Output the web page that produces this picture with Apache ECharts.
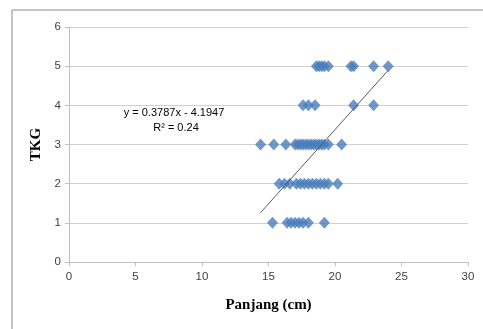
<!DOCTYPE html>
<html>
<head>
<meta charset="utf-8">
<script src="https://cdn.jsdelivr.net/npm/echarts@6/dist/echarts.min.js"></script>
<style>
  html, body { margin: 0; padding: 0; background: #fff; }
  #chart { width: 483px; height: 329px; }
</style>
</head>
<body>
<div id="chart"></div>
<script>
// Panjang (cm) values, one list per TKG level
const tkg1 = [15.3, 16.4, 16.7, 17.0, 17.3, 17.6, 18.0, 19.2]
const tkg2 = [15.8, 16.2, 16.6, 17.1, 17.4, 17.7, 18.0, 18.3, 18.6, 18.9, 19.2, 19.5, 20.2]
const tkg3 = [14.4, 15.4, 16.3, 17.0, 17.2, 17.4, 17.6, 17.8, 18.0, 18.2, 18.4, 18.6, 18.8, 19.0, 19.2, 19.5, 20.5]
const tkg4 = [17.6, 18.0, 18.5, 21.4, 22.9]
const tkg5 = [18.6, 18.8, 19.0, 19.2, 19.5, 21.2, 21.4, 22.9, 24.0]

// linear trendline shown on the chart
const slope = 0.3787
const intercept = -4.1947
const eqText = 'y = 0.3787x - 4.1947'
const r2Text = 'R² = 0.24'

const xTicks = [0, 5, 10, 15, 20, 25, 30]
const yTicks = [0, 1, 2, 3, 4, 5, 6]

const levels = [[1, tkg1], [2, tkg2], [3, tkg3], [4, tkg4], [5, tkg5]]
const points = []
levels.forEach(([lvl, xs]) => {
  xs.forEach(x => points.push([x, lvl]))
})
const allX = points.map(p => p[0])
const xMin = Math.min(...allX)
const xMax = Math.max(...allX)
const trend = [[xMin, slope * xMin + intercept], [xMax, slope * xMax + intercept]]

const myChart = echarts.init(document.getElementById('chart'))
myChart.setOption({
  animation: false,
  grid: { left: 69, right: 15, top: 27, bottom: 67, containLabel: false },
  xAxis: {
    type: 'value',
    min: xTicks[0],
    max: xTicks[xTicks.length - 1],
    interval: 5,
    name: 'Panjang (cm)',
    nameLocation: 'middle',
    nameGap: 36,
    nameTextStyle: { fontFamily: 'Liberation Serif', fontWeight: 'bold', fontSize: 15, color: '#000' },
    axisLine: { show: true, lineStyle: { color: '#bfbfbf', width: 1 } },
    axisTick: { show: true, length: 4, lineStyle: { color: '#bfbfbf' } },
    axisLabel: { fontFamily: 'Liberation Sans', fontSize: 11.5, color: '#404040', margin: 9 },
    splitLine: { show: false }
  },
  yAxis: {
    type: 'value',
    min: yTicks[0],
    max: yTicks[yTicks.length - 1],
    interval: 1,
    name: 'TKG',
    nameLocation: 'middle',
    nameGap: 25,
    nameTextStyle: { fontFamily: 'Liberation Serif', fontWeight: 'bold', fontSize: 15, color: '#000' },
    axisLine: { show: true, lineStyle: { color: '#bfbfbf', width: 1 } },
    axisTick: { show: true, length: 4, lineStyle: { color: '#bfbfbf' } },
    axisLabel: { fontFamily: 'Liberation Sans', fontSize: 11.5, color: '#404040', margin: 8 },
    splitLine: { show: true, lineStyle: { color: '#d0d0d0', width: 1 } }
  },
  graphic: [
    {
      type: 'rect',
      shape: { x: 12, y: 10, width: 600, height: 400 },
      style: { fill: 'none', stroke: '#8c8c8c', lineWidth: 1 },
      silent: true
    },
    {
      type: 'rect',
      shape: { x: 120, y: 106, width: 108, height: 30 },
      style: { fill: '#fff' },
      z: 50
    },
    {
      type: 'text',
      x: 174, y: 113, z: 60,
      style: { text: eqText, fontFamily: 'Liberation Sans', fontSize: 11, fill: '#000', align: 'center', verticalAlign: 'middle' }
    },
    {
      type: 'text',
      x: 176, y: 128, z: 60,
      style: { text: r2Text, fontFamily: 'Liberation Sans', fontSize: 11, fill: '#000', align: 'center', verticalAlign: 'middle' }
    }
  ],
  series: [
    {
      type: 'scatter',
      data: points,
      symbol: 'diamond',
      symbolSize: [11, 12],
      itemStyle: { color: '#4a7ebb' },
      z: 3
    },
    {
      type: 'line',
      data: trend,
      symbol: 'none',
      lineStyle: { color: '#595959', width: 1 },
      z: 4
    }
  ]
})
</script>
</body>
</html>
